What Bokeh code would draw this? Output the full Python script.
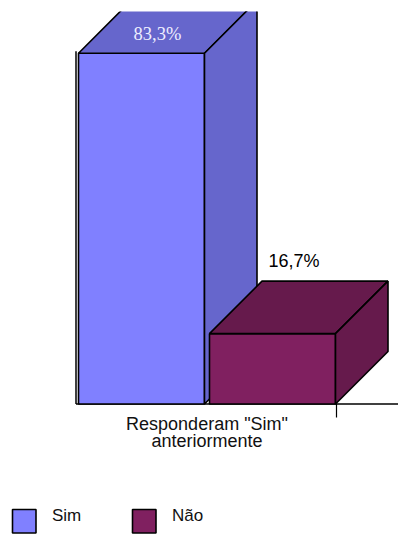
from bokeh.plotting import figure
from bokeh.models import Range1d
from bokeh.core.properties import value
from bokeh.embed import file_html
from bokeh.resources import INLINE

# --- data -------------------------------------------------------------
categories = ["Sim", "Não"]
values = [83.3, 16.7]
value_labels = ["83,3%", "16,7%"]
group_label = ['Responderam "Sim"', "anteriormente"]
front_colors = ["#8080FF", "#802060"]
shade_colors = ["#6666CC", "#661A4C"]

# --- layout -----------------------------------------------------------
W, H = 398, 534
TOP_BORDER = 11            # plot frame starts a little below the top edge
PX_PER_UNIT = 4.2113       # vertical pixels per percentage point
ZERO_PX = 403.5            # canvas row of the 0 baseline
Y_END = (ZERO_PX - TOP_BORDER) / PX_PER_UNIT
Y_START = Y_END - (H - TOP_BORDER) / PX_PER_UNIT

X0 = 78.0                  # left edge of the first bar (x units are pixels)
BAR_W = 126.0
GAP = 5.0
DEPTH_X = 52.5             # 3-D depth, horizontal
DEPTH_Y = 52.5 / PX_PER_UNIT  # 3-D depth, in value units
OUTLINE = 1.6
TEXT_LIFT = 7 / PX_PER_UNIT   # raise text baselines slightly
SANS = "Liberation Sans"
SERIF = "Liberation Serif"


def px_to_val(row):
    """Canvas row -> value units."""
    return Y_END - (row - TOP_BORDER) / PX_PER_UNIT


p = figure(width=W, height=H, output_backend="svg", toolbar_location=None,
           x_range=Range1d(0, W), y_range=Range1d(Y_START, Y_END),
           x_axis_type=None, y_axis_type=None,
           min_border_left=0, min_border_right=0, min_border_bottom=0,
           min_border_top=TOP_BORDER)
p.outline_line_color = None
p.grid.visible = False
p.background_fill_color = "white"
p.border_fill_color = "white"

lefts = [X0 + i * (BAR_W + GAP) for i in range(len(values))]
rights = [l + BAR_W for l in lefts]

# value axis line and floor line
p.segment(x0=[X0 - 2.5], y0=[0], x1=[X0 - 2.5], y1=[max(values) + 0.45],
          line_color="black", line_width=1.5)
p.segment(x0=[X0 - 2.5], y0=[0], x1=[W], y1=[0],
          line_color="black", line_width=1.5)
# category boundary tick
p.segment(x0=[rights[-1] + 1], y0=[0], x1=[rights[-1] + 1],
          y1=[-(417 - ZERO_PX) / PX_PER_UNIT], line_color="black", line_width=1.2)

# 3-D bars: front face, top face, side face
for l, r, v, fc, sc in zip(lefts, rights, values, front_colors, shade_colors):
    p.quad(left=[l], right=[r], bottom=[0], top=[v], fill_color=fc,
           line_color="black", line_width=OUTLINE)
    p.patch(x=[l, r, r + DEPTH_X, l + DEPTH_X],
            y=[v, v, v + DEPTH_Y, v + DEPTH_Y],
            fill_color=sc, line_color="black", line_width=OUTLINE)
    p.patch(x=[r, r + DEPTH_X, r + DEPTH_X, r],
            y=[0, DEPTH_Y, v + DEPTH_Y, v],
            fill_color=sc, line_color="black", line_width=OUTLINE)

# value labels: above the bar when there is room, otherwise on its top face
for l, r, v, lab in zip(lefts, rights, values, value_labels):
    cx = (l + r) / 2
    above = v + DEPTH_Y + 3.2
    if above + 4.5 < Y_END:
        p.text(x=[cx + 21.5], y=[above + TEXT_LIFT], text=[lab],
               text_align="center", text_baseline="alphabetic",
               text_font=value(SANS), text_font_size="18px",
               text_color="black")
    else:
        p.text(x=[cx + 16], y=[v + 3.0 + TEXT_LIFT], text=[lab],
               text_align="center", text_baseline="alphabetic",
               text_font=value(SERIF), text_font_size="18.5px",
               text_color="#EEEEFF")

# category label under the group
gx = (lefts[0] + rights[-1]) / 2
for line, row in zip(group_label, [430.7, 447.7]):
    p.text(x=[gx], y=[px_to_val(row) + TEXT_LIFT], text=[line],
           text_align="center", text_baseline="alphabetic",
           text_font=value(SANS), text_font_size="18px",
           text_color="#111111")

# legend
for i, (name, fc) in enumerate(zip(categories, front_colors)):
    sx = 12 + i * 120
    p.quad(left=[sx], right=[sx + 23.5], top=[px_to_val(509)],
           bottom=[px_to_val(532.5)], fill_color=fc, line_color="black",
           line_width=1.6)
    p.text(x=[sx + 39.5], y=[px_to_val(522.3) + TEXT_LIFT], text=[name],
           text_align="left", text_baseline="alphabetic",
           text_font=value(SANS), text_font_size="17px", text_color="#111111")

open("out.html", "w").write(file_html(p, INLINE))
